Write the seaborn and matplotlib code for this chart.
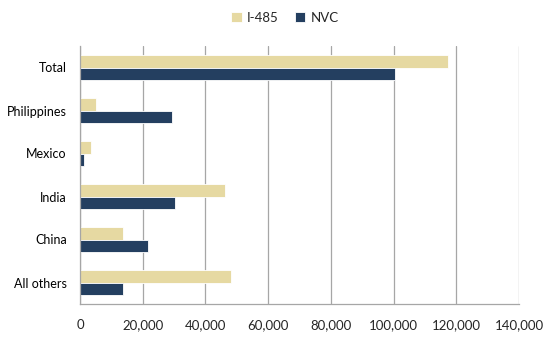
import matplotlib
matplotlib.use("Agg")
import matplotlib.pyplot as plt
import seaborn as sns
import pandas as pd
import numpy as np
from matplotlib.ticker import FuncFormatter, FixedLocator

categories = ["Total", "Philippines", "Mexico", "India", "China", "All others"]
i485 = [117500, 5200, 3400, 46100, 13600, 48200]
nvc = [100500, 29200, 1400, 30200, 21800, 13600]
series = ["I-485", "NVC"]
colors = ["#E6D9A2", "#243F60"]

df = pd.DataFrame({
    "category": categories * 2,
    "value": i485 + nvc,
    "series": [series[0]] * len(categories) + [series[1]] * len(categories),
})

sns.set_style("white")
plt.rcParams["font.family"] = ["Lato", "DejaVu Sans"]

fig = plt.figure(figsize=(5.56, 3.38), dpi=100)
ax = fig.add_axes([80 / 556, 1 - 304 / 338, 439 / 556, (304 - 46) / 338])

sns.barplot(data=df, y="category", x="value", hue="series", order=categories,
            hue_order=series, palette=colors, orient="h", width=0.57,
            saturation=1, ax=ax, edgecolor="white", linewidth=0.6)

ax.set_xlim(0, 140000)
ax.set_ylim(len(categories) - 0.5, -0.5)
ax.set_xticks(np.arange(0, 140001, 20000))
ax.xaxis.set_major_formatter(FuncFormatter(lambda v, p: f"{int(v):,}"))
ax.grid(axis="x", color="#A6A6A6", linewidth=0.9)
ax.set_axisbelow(True)
ax.set_xlabel("")
ax.set_ylabel("")

for s in ["top", "right"]:
    ax.spines[s].set_visible(False)
for s in ["left", "bottom"]:
    ax.spines[s].set_color("#A6A6A6")
    ax.spines[s].set_linewidth(0.9)

ax.tick_params(axis="y", which="major", length=0, pad=9.5, labelsize=9, colors="#000000")
ax.yaxis.set_minor_locator(FixedLocator(np.arange(-0.5, len(categories), 1)))
ax.tick_params(axis="y", which="minor", length=5, color="#A6A6A6", width=0.9, direction="out")
ax.tick_params(axis="x", which="major", length=5, color="#A6A6A6", width=0.9, direction="out",
               labelsize=9.5, pad=6)

handles, labels = ax.get_legend_handles_labels()
ax.get_legend().remove()
fig.legend(handles, labels, loc="center", bbox_to_anchor=(285 / 556, 1 - 18 / 338), ncol=2,
           frameon=False, fontsize=9.5, handlelength=0.8, handleheight=0.8,
           handletextpad=0.4, columnspacing=1.2)

fig.savefig("out.png", dpi=100)
